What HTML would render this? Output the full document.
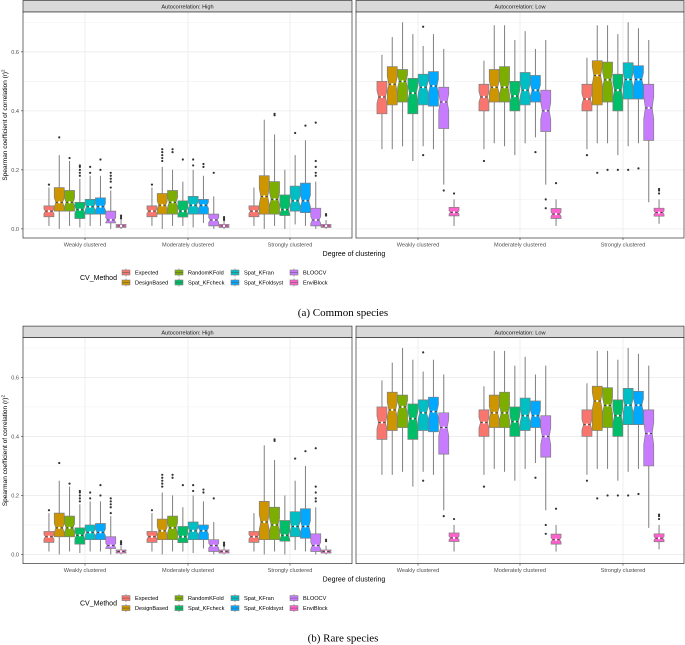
<!DOCTYPE html>
<html><head><meta charset="utf-8">
<style>
html,body{margin:0;padding:0;background:#fff;}
svg{display:block;font-family:"Liberation Sans",sans-serif;}
.cap{font-family:"Liberation Serif",serif;}
</style></head>
<body>
<svg id="fig" width="685" height="645" viewBox="0 0 685 645" xmlns="http://www.w3.org/2000/svg"></svg>
<script>
const methods=["Expected","DesignBased","RandomKFold","Spat_KFcheck","Spat_KFran","Spat_KFoldsyst","BLOOCV","EnviBlock"];
const colors=["#F8766D","#CD9600","#7CAE00","#00BE67","#00BFC4","#00A9FF","#C77CFF","#FF61CC"];
const clusters=["Weakly clustered","Moderately clustered","Strongly clustered"];
const panels=["Autocorrelation: High","Autocorrelation: Low"];
const yTicks=[0,0.2,0.4,0.6];
const yTickLabels=["0.0","0.2","0.4","0.6"];
// [lowWhisker, q1, median, q3, highWhisker]
const highWeak=[[0.01,0.041,0.06,0.078,0.14],[0,0.06,0.09,0.14,0.25],[0.01,0.06,0.09,0.13,0.23],[0.005,0.035,0.065,0.09,0.17],[0.01,0.05,0.075,0.1,0.18],[0.01,0.05,0.075,0.105,0.18],[0,0.02,0.03,0.06,0.13],[0,0.005,0.01,0.015,0.03]];
const highMod=[[0.01,0.041,0.06,0.078,0.14],[0,0.05,0.08,0.12,0.21],[0.01,0.05,0.09,0.13,0.2],[0.01,0.04,0.06,0.095,0.16],[0.005,0.05,0.08,0.11,0.2],[0.02,0.05,0.08,0.1,0.18],[0,0.01,0.03,0.05,0.11],[0,0.005,0.01,0.015,0.03]];
const highStrong=[[0.01,0.041,0.06,0.078,0.14],[0,0.05,0.11,0.18,0.37],[0.01,0.05,0.1,0.16,0.32],[0,0.045,0.065,0.115,0.2],[0.015,0.06,0.095,0.145,0.25],[0.01,0.055,0.095,0.155,0.3],[0,0.01,0.03,0.07,0.16],[0,0.005,0.01,0.015,0.03]];
const lowWeak=[[0.27,0.39,0.447,0.5,0.59],[0.27,0.42,0.49,0.55,0.65],[0.28,0.43,0.5,0.54,0.7],[0.23,0.39,0.46,0.51,0.66],[0.28,0.42,0.48,0.524,0.62],[0.27,0.416,0.484,0.533,0.66],[0.15,0.34,0.43,0.48,0.61],[0.01,0.044,0.056,0.073,0.1]];
const lowMod=[[0.27,0.4,0.447,0.49,0.57],[0.29,0.43,0.48,0.54,0.69],[0.28,0.43,0.48,0.55,0.69],[0.25,0.4,0.45,0.5,0.64],[0.29,0.42,0.47,0.53,0.67],[0.31,0.43,0.47,0.52,0.61],[0.15,0.33,0.4,0.47,0.64],[0.01,0.035,0.05,0.069,0.1]];
const lowStrong=[[0.27,0.4,0.44,0.49,0.58],[0.29,0.42,0.52,0.57,0.69],[0.29,0.43,0.505,0.565,0.69],[0.25,0.4,0.47,0.524,0.66],[0.28,0.44,0.506,0.563,0.7],[0.29,0.44,0.506,0.553,0.68],[0.09,0.3,0.41,0.49,0.64],[0.017,0.043,0.055,0.07,0.1]];
const highOut=[[[0.15],[0.31],[0.24],[0.18,0.19,0.2,0.21,0.215],[0.19,0.21],[0.2,0.235],[0.14,0.16,0.17,0.18,0.19],[0.035,0.04,0.045]],
[[0.15],[0.23,0.24,0.25,0.26,0.27],[0.26,0.27],[0.235],[0.215,0.235],[0.21,0.22],[0.19],[0.03,0.035,0.04]],
[[],[],[0.385,0.39],[],[0.325],[0.35],[0.18,0.19,0.21,0.23,0.36],[0.045,0.05]]];
const lowOut=[[[],[],[],[],[0.25,0.685],[],[0.13],[0.12]],
[[0.23],[],[],[],[],[0.26],[0.1,0.07],[0.155]],
[[0.25],[0.19],[0.2],[0.2],[0.2],[0.205],[],[0.12,0.13,0.135]]];
const data=[[highWeak,highMod,highStrong],[lowWeak,lowMod,lowStrong]];
const outs=[highOut,lowOut];

const NS="http://www.w3.org/2000/svg";
const svg=document.getElementById('fig');
function mk(tag,attrs,parent,text){const e=document.createElementNS(NS,tag);for(const k in attrs)e.setAttribute(k,attrs[k]);if(text!==undefined)e.textContent=text;(parent||svg).appendChild(e);return e;}

const panelX=[[23,352],[356,684]];
const centers=[[85,188,290],[418,520,623]];
const yMin=-0.031,yMax=0.735;
function drawFigure(oy,caption,idx){
  const g=mk('g',{});
  
  
  const top=oy+12,bot=oy+238;
  const Y=v=>bot-(v-yMin)/(yMax-yMin)*(bot-top);
  for(let p=0;p<2;p++){
    const [x0,x1]=panelX[p];
    const pg=mk('g',{},g);
    
    
    const st=mk('rect',{x:x0,y:oy+0.5,width:x1-x0,height:11.5,fill:'#d9d9d9',stroke:'#333','stroke-width':0.7},pg);
    
    
    const stt=mk('text',{x:(x0+x1)/2,y:oy+8.7,'font-size':5.6,'text-anchor':'middle',fill:'#1a1a1a'},pg,panels[p]);
    
    
    mk('rect',{x:x0,y:top,width:x1-x0,height:bot-top,fill:'#fff'},pg);
    for(let v=-0.0;v<0.75;v+=0.1){
      const major=Math.abs(Math.round(v*10)%2)==0;
      mk('line',{x1:x0,x2:x1,y1:Y(v),y2:Y(v),stroke:'#ebebeb','stroke-width':major?0.8:0.4},pg);
    }
    for(let c=0;c<3;c++) mk('line',{x1:centers[p][c],x2:centers[p][c],y1:top,y2:bot,stroke:'#ebebeb','stroke-width':0.8},pg);
    for(let c=0;c<3;c++){
      const cx=centers[p][c];
      for(let m=0;m<8;m++){
        const d=data[p][c][m];
        const bx=cx+(m-3.5)*10.3,hw=5;
        const bg=mk('g',{},pg);
        
        
        mk('line',{x1:bx,x2:bx,y1:Y(d[0]),y2:Y(d[4]),stroke:'#7f7f7f','stroke-width':1},bg);
        const nh=0.2*(d[3]-d[1]);
        const nlo=Math.max(d[1],d[2]-nh),nhi=Math.min(d[3],d[2]+nh);
        const ni=hw*0.68;
        const pts=[[bx-hw,Y(d[3])],[bx+hw,Y(d[3])],[bx+hw,Y(nhi)],[bx+ni,Y(d[2])],[bx+hw,Y(nlo)],[bx+hw,Y(d[1])],[bx-hw,Y(d[1])],[bx-hw,Y(nlo)],[bx-ni,Y(d[2])],[bx-hw,Y(nhi)]];
        mk('polygon',{points:pts.map(q=>q.join(',')).join(' '),fill:colors[m],stroke:'#7f7f7f','stroke-width':0.7},bg);
        mk('line',{x1:bx-ni,x2:bx+ni,y1:Y(d[2]),y2:Y(d[2]),stroke:'#333','stroke-width':0.8},bg);
        mk('circle',{cx:bx,cy:Y(d[2]),r:1.2,fill:'#fff'},bg);
        for(const o of outs[p][c][m]) mk('circle',{cx:bx,cy:Y(o),r:1.1,fill:'#333'},bg);
      }
    }
    mk('rect',{x:x0,y:top,width:x1-x0,height:bot-top,fill:'none',stroke:'#333','stroke-width':0.7},pg);
    for(let c=0;c<3;c++){
      mk('line',{x1:centers[p][c],x2:centers[p][c],y1:bot,y2:bot+2,stroke:'#333','stroke-width':0.6},pg);
      const t=mk('text',{x:centers[p][c],y:bot+8.5,'font-size':5.6,'text-anchor':'middle',fill:'#4d4d4d'},pg,clusters[c]);
      
      
    }
  }
  for(let i=0;i<yTicks.length;i++){
    const t=mk('text',{x:19,y:Y(yTicks[i])+2,'font-size':5.6,'text-anchor':'end',fill:'#4d4d4d'},g,yTickLabels[i]);
    
    
    mk('line',{x1:21,x2:23,y1:Y(yTicks[i]),y2:Y(yTicks[i]),stroke:'#333','stroke-width':0.6},g);
  }
  const yt=mk('text',{x:0,y:0,'font-size':6.5,'text-anchor':'middle',fill:'#000',transform:`translate(7,${(top+bot)/2}) rotate(-90)`},g);
  yt.innerHTML='Spearman coefficient of correlation (r)<tspan dy="-2.5" font-size="4.5">2</tspan>';
  
  
  const xt=mk('text',{x:354,y:oy+256,'font-size':7,'text-anchor':'middle',fill:'#000'},g,'Degree of clustering');
  
  
  const lg=mk('g',{},g);
  
  
  mk('text',{x:80,y:oy+280,'font-size':7,fill:'#000'},lg,'CV_Method');
  const colX=[122,175,231,290];
  for(let m=0;m<8;m++){
    const kx=colX[Math.floor(m/2)],ky=oy+270+(m%2)*10;
    const e=mk('g',{},lg);
    
    
    mk('line',{x1:kx+4,x2:kx+4,y1:ky-1.5,y2:ky+6.5,stroke:'#7f7f7f','stroke-width':0.7},e);
    mk('rect',{x:kx,y:ky,width:8,height:5,fill:colors[m],stroke:'#7f7f7f','stroke-width':0.6},e);
    mk('line',{x1:kx,x2:kx+8,y1:ky+2.5,y2:ky+2.5,stroke:'#555','stroke-width':0.5},e);
    mk('text',{x:kx+13,y:ky+4.6,'font-size':5.6,fill:'#000'},e,methods[m]);
  }
  const cp=mk('text',{x:343,y:oy+316,'font-size':11,'text-anchor':'middle',fill:'#000','class':'cap'},g,caption);
  
  
}
drawFigure(0,'(a) Common species','a');
drawFigure(325.6,'(b) Rare species','b');
</script>
</body></html>
